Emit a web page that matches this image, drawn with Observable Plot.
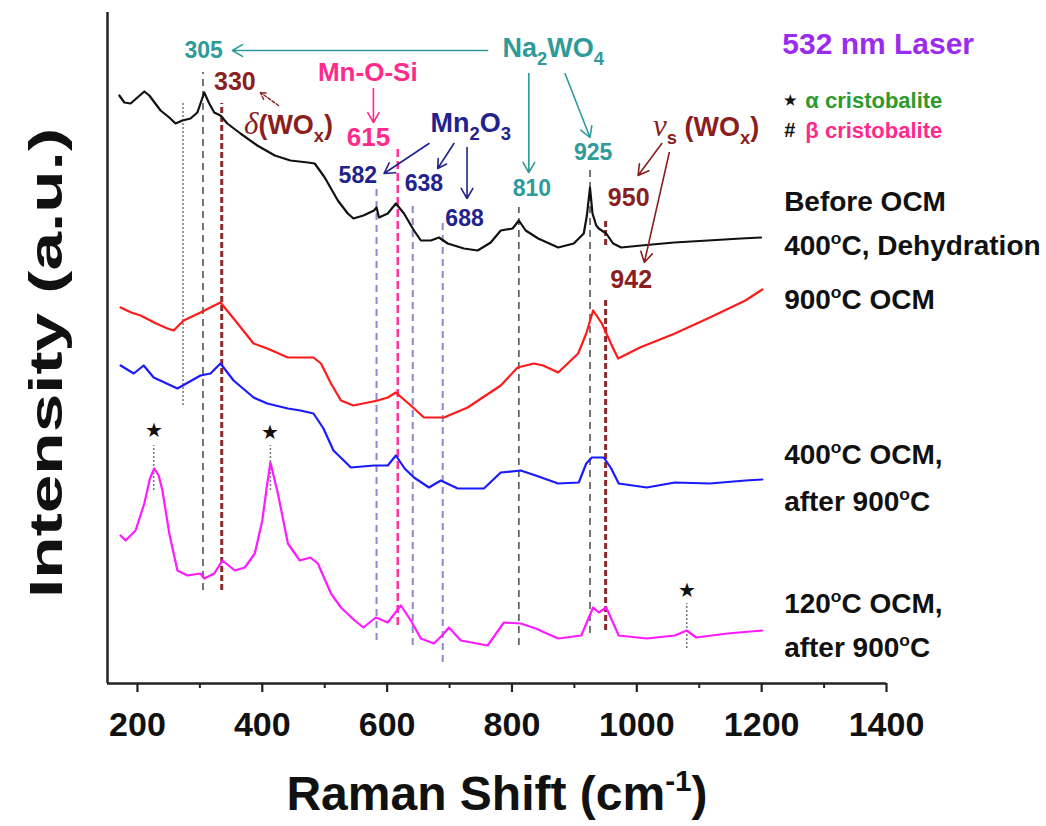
<!DOCTYPE html>
<html>
<head>
<meta charset="utf-8">
<script src="https://cdn.jsdelivr.net/npm/d3@7"></script>
<script src="https://cdn.jsdelivr.net/npm/@observablehq/plot@0.6"></script>
<style>
  body { margin: 0; background: white; }
  #chart svg { display: block; }
</style>
</head>
<body>
<div id="chart"></div>
<script>
// ---- Data: Raman shift (cm-1) vs intensity (a.u., stacked offsets as drawn) ----
const beforeOCM = [
  [171,588],[179,581],[189,580],[200,586],[211,592],[219,588],[237,573],[251,566],[261,560],[272,563],
  [285,565],[296,571],[307,591],[315,580],[323,571],[333,568],[344,560],[365,550],[392,538],[420,528],
  [445,523],[473,521],[484,520],[500,506],[521,483],[537,470],[546,465],[562,468],[579,473],[583,476],
  [587,466],[601,470],[614,480],[627,470],[643,453],[654,443],[670,443],[683,446],[697,440],[723,435],
  [745,433],[766,441],[782,453],[801,455],[811,463],[822,453],[842,445],[874,436],[899,440],[915,450],
  [920,468],[925,496],[929,470],[935,458],[939,455],[951,450],[962,440],[975,436],[1007,438],[1060,441],
  [1114,443],[1167,445],[1199,446]
];
const ocm900 = [
  [173,376],[190,371],[205,368],[230,360],[248,355],[258,353],[274,363],[301,371],[320,377],[333,381],
  [354,365],[386,340],[408,335],[441,326],[482,326],[494,320],[510,300],[526,283],[546,278],[585,283],
  [601,286],[614,291],[625,285],[638,278],[659,266],[691,266],[729,276],[782,298],[809,316],[835,320],
  [850,318],[874,311],[906,330],[919,350],[930,373],[944,360],[960,338],[970,325],[1005,336],[1061,350],
  [1117,366],[1174,383],[1201,394]
];
const ocm400 = [
  [173,318],[194,310],[210,318],[226,306],[264,295],[301,308],[317,310],[333,320],[354,303],[386,286],
  [408,280],[441,275],[461,273],[482,270],[498,255],[514,233],[542,216],[579,218],[601,218],[614,228],
  [628,215],[643,206],[667,196],[686,203],[713,195],[755,195],[782,211],[814,213],[838,208],[874,200],
  [907,201],[919,220],[928,226],[947,226],[959,215],[971,200],[1016,196],[1061,201],[1117,200],[1174,203],
  [1201,204]
];
const ocm120 = [
  [173,148],[181,143],[197,153],[211,180],[220,205],[227,215],[234,208],[240,193],[251,150],[264,113],
  [280,108],[301,110],[307,105],[323,110],[336,123],[356,113],[372,116],[388,130],[400,163],[408,200],
  [413,221],[418,208],[425,190],[441,140],[460,123],[477,126],[489,120],[510,90],[526,76],[548,63],
  [562,56],[582,66],[601,61],[622,78],[638,63],[654,45],[675,40],[691,50],[699,56],[718,43],
  [761,38],[787,61],[814,60],[838,55],[874,45],[911,48],[930,76],[939,71],[951,76],[971,48],
  [1016,45],[1061,48],[1080,53],[1095,46],[1145,50],[1201,53]
];

const majorTicks = [200, 400, 600, 800, 1000, 1200, 1400];
const minorTicks = [300, 500, 700, 900, 1100, 1300];

// reference peak markers (x = Raman shift; y1..y2 = extent in intensity units)
const peakLines = [
  {x: 273, y1: 278, y2: 581, kind: "dot"},
  {x: 226, y1: 193, y2: 238, kind: "dot"},
  {x: 413, y1: 193, y2: 238, kind: "dot"},
  {x: 1080, y1: 35, y2: 80, kind: "dot"},
  {x: 305, y1: 93, y2: 611, kind: "gray"},
  {x: 811, y1: 38, y2: 476, kind: "gray"},
  {x: 925, y1: 50, y2: 513, kind: "gray"},
  {x: 335, y1: 93, y2: 580, kind: "brown"},
  {x: 950, y1: 438, y2: 465, kind: "brown"},
  {x: 950, y1: 53, y2: 386, kind: "brown"},
  {x: 583, y1: 43, y2: 495, kind: "lav"},
  {x: 641, y1: 38, y2: 478, kind: "lav"},
  {x: 689, y1: 21, y2: 461, kind: "lav"},
  {x: 617, y1: 58, y2: 538, kind: "pink"}
];
const stars = [{x: 226, y: 253}, {x: 413, y: 251}, {x: 1080, y: 93}];

const teal = "#2f9a9a", brown = "#8b1f1f", pink = "#ff2a8a", navy = "#22228c", purple = "#9a2cf0", green = "#2e9a2e";

const arrows = [
  {x1: 761, y1: 633, x2: 352, y2: 633, c: teal},
  {x1: 827, y1: 610, x2: 827, y2: 511, c: teal},
  {x1: 885, y1: 610, x2: 925, y2: 546, c: teal},
  {x1: 578, y1: 595, x2: 578, y2: 561, c: pink},
  {x1: 667, y1: 540, x2: 595, y2: 510, c: navy},
  {x1: 707, y1: 540, x2: 681, y2: 515, c: navy},
  {x1: 728, y1: 536, x2: 728, y2: 485, c: navy},
  {x1: 1040, y1: 540, x2: 1002, y2: 508, c: brown},
  {x1: 1052, y1: 531, x2: 1012, y2: 421, c: brown}
];
const dashedArrows = [{x1: 426, y1: 578, x2: 397, y2: 591, c: brown}];

const labels = [
  {x: 306, y: 633, t: "305", c: teal, s: 23, a: "middle"},
  {x: 866, y: 635, t: "Na_{2}WO_{4}", c: teal, s: 27, a: "middle"},
  {x: 832, y: 495, t: "810", c: teal, s: 23, a: "middle"},
  {x: 930, y: 531, t: "925", c: teal, s: 23, a: "middle"},
  {x: 356, y: 602, t: "330", c: brown, s: 25, a: "middle"},
  {x: 442, y: 558, t: "*{δ}(WO_{x})", c: brown, s: 27, a: "middle"},
  {x: 569, y: 611, t: "Mn-O-Si", c: pink, s: 26, a: "middle"},
  {x: 570, y: 546, t: "615", c: pink, s: 26, a: "middle"},
  {x: 734, y: 560, t: "Mn_{2}O_{3}", c: navy, s: 27, a: "middle"},
  {x: 553, y: 508, t: "582", c: navy, s: 23, a: "middle"},
  {x: 659, y: 500, t: "638", c: navy, s: 23, a: "middle"},
  {x: 724, y: 465, t: "688", c: navy, s: 23, a: "middle"},
  {x: 1111, y: 556, t: "*{ν}_{s} (WO_{x})", c: brown, s: 27, a: "middle"},
  {x: 987, y: 486, t: "950", c: brown, s: 25, a: "middle"},
  {x: 991, y: 404, t: "942", c: brown, s: 25, a: "middle"},
  {x: 1233, y: 639, t: "532 nm Laser", c: purple, s: 30, a: "start"},
  {x: 1236, y: 583, t: "★", c: "#111", s: 14, a: "start"},
  {x: 1270, y: 583, t: "α cristobalite", c: green, s: 22, a: "start"},
  {x: 1236, y: 553, t: "#", c: "#111", s: 20, a: "start"},
  {x: 1270, y: 553, t: "β cristobalite", c: pink, s: 22, a: "start"},
  {x: 1236, y: 481, t: "Before OCM", c: "#111", s: 28, a: "start"},
  {x: 1236, y: 437, t: "400^{o}C, Dehydration", c: "#111", s: 28, a: "start"},
  {x: 1236, y: 383, t: "900^{o}C OCM", c: "#111", s: 28, a: "start"},
  {x: 1236, y: 228, t: "400^{o}C OCM,", c: "#111", s: 28, a: "start"},
  {x: 1236, y: 181, t: "after 900^{o}C", c: "#111", s: 28, a: "start"},
  {x: 1236, y: 79, t: "120^{o}C OCM,", c: "#111", s: 28, a: "start"},
  {x: 1236, y: 35, t: "after 900^{o}C", c: "#111", s: 28, a: "start"}
];

const X = d => d[0], Y = d => d[1];
const lineStyles = {
  dot:   {stroke: "#777", strokeWidth: 1.5, strokeDasharray: "2,2"},
  gray:  {stroke: "#555", strokeWidth: 1.6, strokeDasharray: "7,5"},
  brown: {stroke: "#8b2a2a", strokeWidth: 3, strokeDasharray: "6,3"},
  lav:   {stroke: "#8a8ad0", strokeWidth: 2, strokeDasharray: "7,5"},
  pink:  {stroke: "#ff3399", strokeWidth: 2.5, strokeDasharray: "8,4"}
};

const marks = [];
for (const k of Object.keys(lineStyles)) {
  marks.push(Plot.ruleX(peakLines.filter(d => d.kind === k), {x: "x", y1: "y1", y2: "y2", ...lineStyles[k]}));
}
marks.push(
  Plot.line(beforeOCM, {x: X, y: Y, stroke: "#111", strokeWidth: 2.2}),
  Plot.line(ocm900, {x: X, y: Y, stroke: "#ff1a1a", strokeWidth: 2.2}),
  Plot.line(ocm400, {x: X, y: Y, stroke: "#1a1aff", strokeWidth: 2.2}),
  Plot.line(ocm120, {x: X, y: Y, stroke: "#ff1aff", strokeWidth: 2.2}),
  Plot.text(stars, {x: "x", y: "y", text: () => "★", fill: "#111", fontSize: 20}),
  Plot.arrow(arrows, {x1: "x1", y1: "y1", x2: "x2", y2: "y2", stroke: d => d.c, strokeWidth: 1.6, headLength: 11}),
  Plot.arrow(dashedArrows, {x1: "x1", y1: "y1", x2: "x2", y2: "y2", stroke: d => d.c, strokeWidth: 1.5, headLength: 10, strokeDasharray: "3,2"}),
  Plot.ruleY([0], {stroke: "#222", strokeWidth: 2.5}),
  Plot.ruleX([152], {stroke: "#222", strokeWidth: 2.5}),
  Plot.axisX({ticks: majorTicks, tickSize: 9, tickPadding: 19, tickFormat: d => String(d), fontSize: 34, fontWeight: "bold", stroke: "#222", strokeWidth: 2.2, fill: "#111", label: null}),
  Plot.axisX({ticks: minorTicks, tickSize: 5, tickFormat: () => "", stroke: "#222", strokeWidth: 2, label: null}),
  Plot.text(["Raman Shift (cm^{-1})"], {frameAnchor: "bottom", dx: 0, dy: 126, fontSize: 48, fontWeight: "bold", fill: "#111"}),
  Plot.text(["Intensity (a.u.)"], {frameAnchor: "left", textAnchor: "middle", rotate: -90, dx: -60, dy: 15, fontSize: 46, fontWeight: "bold", fill: "#111"})
);
for (const L of labels) {
  marks.push(Plot.text([L], {x: "x", y: "y", text: "t", fill: L.c, fontSize: L.s, fontWeight: "bold", textAnchor: L.a}));
}

const chart = Plot.plot({
  width: 1046,
  height: 826,
  marginLeft: 107,
  marginRight: 160,
  marginTop: 12,
  marginBottom: 143,
  x: {domain: [152, 1400]},
  y: {domain: [0, 671], axis: null},
  style: {background: "white", fontFamily: "'Liberation Sans', Arial, sans-serif", overflow: "visible"},
  marks
});

document.getElementById("chart").appendChild(chart);

// rich text: _{sub}, ^{sup}, *{italic serif}
d3.select(chart).selectAll("text").each(function () {
  const s = this.textContent;
  if (!/[_^*]\{/.test(s)) return;
  const holder = this.closest("[font-size]");
  const fs = holder ? parseFloat(holder.getAttribute("font-size")) : 20;
  const el = d3.select(this);
  el.text(null);
  const parts = s.split(/([_^*]\{[^}]*\})/).filter(p => p);
  for (const p of parts) {
    const m = p.match(/^([_^*])\{([^}]*)\}$/);
    const t = el.append("tspan").text(m ? m[2] : p);
    if (m && m[1] === "_") t.attr("font-size", 0.68 * fs).attr("baseline-shift", -0.28 * fs);
    else if (m && m[1] === "^") t.attr("font-size", 0.62 * fs).attr("baseline-shift", 0.40 * fs);
    else if (m) t.attr("font-style", "italic").attr("font-family", "'Liberation Serif', serif").attr("font-weight", "normal").attr("font-size", fs * 1.15);
  }
});
// the y-axis title is drawn longer in the figure than its font width gives: stretch along its line
d3.select(chart).selectAll("text").filter(function () { return this.textContent === "Intensity (a.u.)"; })
  .each(function () {
    const L = this.getComputedTextLength();
    const tr = this.getAttribute("transform") || "";
    if (L > 0) this.setAttribute("transform", tr + ` scale(${470 / L},1)`);
  });
</script>
</body>
</html>
